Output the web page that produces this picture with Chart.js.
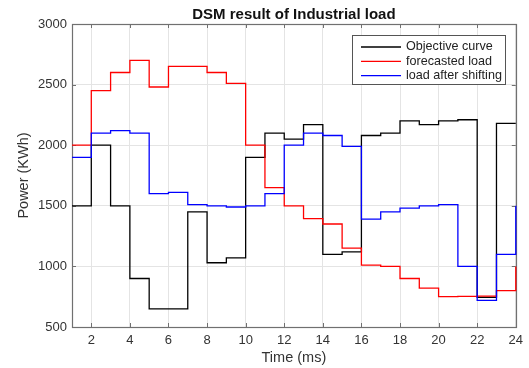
<!DOCTYPE html>
<html lang="en">
<head>
  <meta charset="UTF-8" />
  <title>DSM result of Industrial load</title>
  <script src="https://cdn.jsdelivr.net/npm/chart.js"></script>
  <style>
    body { margin: 0; background: #fff; }
    canvas { display: block; }
  </style>
</head>
<body>
  <canvas id="dsmChart" width="529" height="368"></canvas>

  <script>
    // hours 1..24, stairs hold each value until the next hour
    const hours = [1, 2, 3, 4, 5, 6, 7, 8, 9, 10, 11, 12, 13, 14, 15, 16, 17, 18, 19, 20, 21, 22, 23, 24];
    const objectiveCurve = [1500, 2000, 1500, 900, 650, 650, 1450, 1030, 1070, 1900, 2100, 2050, 2170, 1100, 1120, 2080, 2100, 2200, 2170, 2200, 2210, 745, 2180, 2180];
    const forecastedLoad = [2000, 2450, 2600, 2700, 2480, 2650, 2650, 2600, 2510, 2000, 1650, 1500, 1395, 1350, 1150, 1010, 1000, 900, 820, 750, 752, 755, 800, 1000];
    const shiftedLoad = [1900, 2100, 2120, 2100, 1600, 1610, 1510, 1500, 1490, 1500, 1600, 2000, 2100, 2080, 1990, 1390, 1450, 1480, 1500, 1510, 1000, 720, 1100, 1500];
    const seriesNames = ["Objective curve", "forecasted load", "load after shifting"];
    const xTicks = [2, 4, 6, 8, 10, 12, 14, 16, 18, 20, 22, 24];
    const yTicks = [500, 1000, 1500, 2000, 2500, 3000];
    const chartTitle = "DSM result of Industrial load";

    const FONT = "'Liberation Sans', Arial, sans-serif";
    const toPoints = vals => vals.map((v, i) => ({ x: hours[i], y: v }));

    // matlab style box with inward ticks, title over the axes, legend inside
    const boxPlugin = {
      id: "matlabBox",
      beforeDatasetsDraw(chart) {
        const { ctx, chartArea: a, scales: { x, y } } = chart;
        ctx.save();
        ctx.strokeStyle = "#707070";
        ctx.lineWidth = 1;
        ctx.beginPath();
        xTicks.forEach(t => {
          const px = Math.round(x.getPixelForValue(t)) + 0.5;
          ctx.moveTo(px, a.bottom); ctx.lineTo(px, a.bottom - 4);
          ctx.moveTo(px, a.top); ctx.lineTo(px, a.top + 4);
        });
        yTicks.forEach(t => {
          const py = Math.round(y.getPixelForValue(t)) + 0.5;
          ctx.moveTo(a.left, py); ctx.lineTo(a.left + 4, py);
          ctx.moveTo(a.right, py); ctx.lineTo(a.right - 4, py);
        });
        ctx.stroke();
        ctx.lineWidth = 1.2;
        ctx.strokeRect(Math.round(a.left) + 0.5, Math.round(a.top) + 0.5, Math.round(a.right - a.left), Math.round(a.bottom - a.top));
        ctx.restore();
      },
      afterDraw(chart) {
        const { ctx, chartArea: a } = chart;
        ctx.save();
        ctx.fillStyle = "#111";
        ctx.font = "bold 15px " + FONT;
        ctx.textAlign = "center";
        ctx.textBaseline = "alphabetic";
        ctx.fillText(chartTitle, (a.left + a.right) / 2, 18.5);

        const bx = 352.5, by = 35.5, bw = 153, bh = 49;
        ctx.fillStyle = "#fff";
        ctx.fillRect(bx, by, bw, bh);
        ctx.strokeStyle = "#555";
        ctx.lineWidth = 1;
        ctx.strokeRect(bx, by, bw, bh);
        ctx.font = "12.6px " + FONT;
        ctx.textAlign = "left";
        ctx.textBaseline = "middle";
        chart.data.datasets.forEach((ds, i) => {
          const ry = 47 + i * 14.3;
          ctx.strokeStyle = ds.borderColor;
          ctx.lineWidth = 1.3;
          ctx.beginPath();
          ctx.moveTo(361, ry); ctx.lineTo(401, ry);
          ctx.stroke();
          ctx.fillStyle = "#222";
          ctx.fillText(ds.label, 406, ry);
        });
        ctx.restore();
      }
    };

    new Chart(document.getElementById("dsmChart"), {
      type: "line",
      data: {
        datasets: [
          { label: seriesNames[0], data: toPoints(objectiveCurve), borderColor: "#000000", order: 3 },
          { label: seriesNames[1], data: toPoints(forecastedLoad), borderColor: "#ff0000", order: 2 },
          { label: seriesNames[2], data: toPoints(shiftedLoad), borderColor: "#0000ff", order: 1 }
        ].map(d => Object.assign(d, { stepped: true, borderWidth: 1.3, pointRadius: 0, fill: false, clip: 2 }))
      },
      options: {
        responsive: false,
        animation: false,
        layout: { padding: { left: 0, right: 11, top: 24, bottom: 0 } },
        plugins: {
          legend: { display: false },
          tooltip: { enabled: false },
          title: { display: false }
        },
        scales: {
          x: {
            type: "linear",
            min: 1,
            max: 24,
            afterBuildTicks: s => { s.ticks = xTicks.map(v => ({ value: v })); },
            afterFit: s => { s.height = 41; },
            grid: { color: "#e4e4e4", drawTicks: false },
            border: { display: false },
            ticks: {
              padding: 6,
              color: "#333",
              font: { family: FONT, size: 13 },
              maxRotation: 0,
              callback: v => String(v)
            },
            title: {
              display: true,
              text: "Time (ms)",
              color: "#333",
              font: { family: FONT, size: 14.5 },
              padding: { top: 0, bottom: 1 }
            }
          },
          y: {
            min: 500,
            max: 3000,
            afterBuildTicks: s => { s.ticks = yTicks.map(v => ({ value: v })); },
            afterFit: s => { s.width = 72; },
            grid: { color: "#e4e4e4", drawTicks: false },
            border: { display: false },
            ticks: {
              padding: 5,
              color: "#333",
              font: { family: FONT, size: 13 },
              callback: v => String(v)
            },
            title: {
              display: true,
              text: "Power (KWh)",
              color: "#333",
              font: { family: FONT, size: 14.5 },
              padding: { top: 15, bottom: 0 }
            }
          }
        }
      },
      plugins: [boxPlugin]
    });
  </script>
</body>
</html>
